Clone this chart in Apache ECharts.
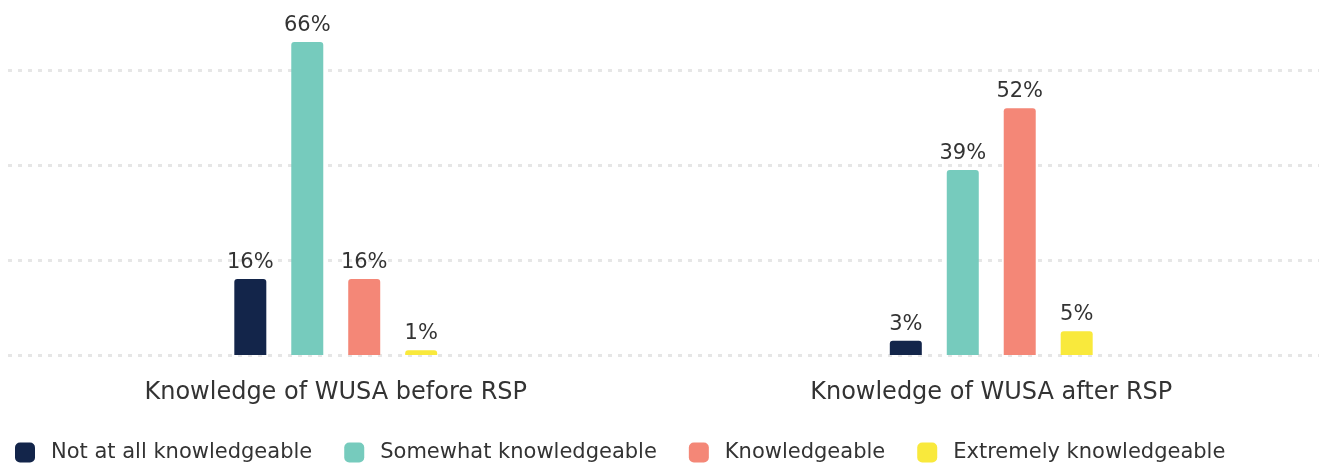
<!DOCTYPE html>
<html>
<head>
<meta charset="utf-8">
<script src="https://cdn.jsdelivr.net/npm/echarts@6/dist/echarts.min.js"></script>
<style>html,body{margin:0;padding:0;background:#fff;}#c{width:1321px;height:466px;}</style>
</head>
<body>
<div id="c"></div>
<script>
const categories = ['Knowledge of WUSA before RSP', 'Knowledge of WUSA after RSP'];
const seriesNames = ['Not at all knowledgeable', 'Somewhat knowledgeable', 'Knowledgeable', 'Extremely knowledgeable'];
const notAtAll = [16, 3];
const somewhat = [66, 39];
const knowledgeable = [16, 52];
const extremely = [1, 5];
const gridValues = [0, 20, 40, 60];
const colors = ['#13254a', '#76cbbd', '#f48777', '#f9e93c'];

const FONT = 'DejaVu Sans';
const chart = echarts.init(document.getElementById('c'), null, {renderer: 'canvas'});
const dataSets = [notAtAll, somewhat, knowledgeable, extremely];
const series = dataSets.map((d, i) => ({
  name: seriesNames[i],
  type: 'bar',
  data: d,
  barWidth: 32,
  barGap: '78%',
  itemStyle: {color: colors[i], borderRadius: [3, 3, 0, 0]},
  label: {show: true, position: 'top', distance: 6, formatter: '{c}%', color: '#333', fontSize: 21, fontFamily: FONT},
  z: 3
}));
series[0].markLine = {
  silent: true,
  symbol: 'none',
  label: {show: false},
  lineStyle: {color: '#e6e6e6', width: 3, type: [4, 6]},
  z: -1,
  zlevel: 0,
  data: gridValues.map(v => ({yAxis: v}))
};
chart.setOption({
  animation: false,
  color: colors,
  grid: {left: 8, right: 2, top: 23, bottom: 111, containLabel: false},
  xAxis: {
    type: 'category',
    data: categories,
    axisLine: {show: false},
    axisTick: {show: false},
    axisLabel: {color: '#333', fontSize: 24, fontFamily: FONT, margin: 26}
  },
  yAxis: {
    type: 'value', min: 0, max: 70,
    show: false,
    splitLine: {show: false}
  },
  legend: {
    left: 10, top: 437,
    itemWidth: 20, itemHeight: 20, itemGap: 32,
    icon: 'roundRect',
    textStyle: {color: '#333', fontSize: 21, fontFamily: FONT, padding: [0, 0, 0, 11]},
    data: seriesNames
  },
  series: series
});
</script>
</body>
</html>
